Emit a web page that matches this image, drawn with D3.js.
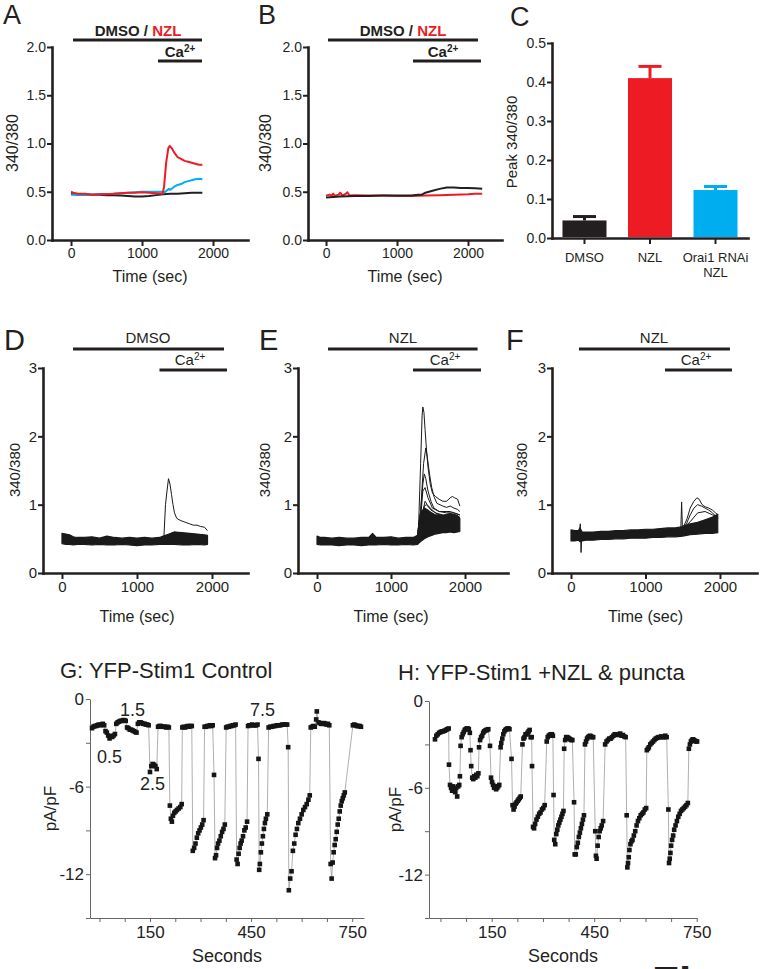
<!DOCTYPE html>
<html>
<head>
<meta charset="utf-8">
<script src="https://cdn.jsdelivr.net/npm/d3@7"></script>
<style>
body{margin:0;background:#fff;}
</style>
</head>
<body>
<div id="fig"></div>
<script>
var FONT = '"Liberation Sans", Arial, Helvetica, sans-serif';
var INK = "#231f20", RED = "#ed1c24", CYAN = "#00aeef";

// ---- panel A: mean 340/380 traces [sec, ratio]
var aBlack = [[0,0.48],[100,0.47],[200,0.47],[300,0.47],[400,0.47],[500,0.465],[600,0.465],[700,0.46],[800,0.455],[900,0.45],[1000,0.45],[1100,0.455],[1200,0.465],[1300,0.475],[1400,0.48],[1500,0.48],[1600,0.485],[1700,0.49],[1800,0.49],[1850,0.49]];
var aBlue = [[0,0.47],[200,0.47],[400,0.475],[600,0.48],[800,0.49],[900,0.495],[1000,0.50],[1100,0.50],[1200,0.50],[1280,0.50],[1300,0.49],[1330,0.50],[1360,0.52],[1380,0.53],[1400,0.52],[1450,0.55],[1500,0.57],[1550,0.58],[1600,0.60],[1650,0.61],[1700,0.62],[1750,0.63],[1800,0.635],[1850,0.63]];
var aRed = [[0,0.50],[30,0.49],[100,0.48],[200,0.48],[300,0.47],[400,0.475],[500,0.475],[600,0.48],[700,0.485],[800,0.49],[900,0.49],[1000,0.495],[1100,0.49],[1200,0.485],[1290,0.48],[1310,0.55],[1340,0.80],[1370,0.95],[1390,0.975],[1420,0.95],[1460,0.90],[1500,0.86],[1550,0.84],[1600,0.82],[1650,0.81],[1700,0.80],[1750,0.79],[1800,0.78],[1850,0.78]];

// ---- panel B
var bBlack = [[0,0.44],[100,0.445],[200,0.45],[400,0.455],[600,0.455],[800,0.46],[1000,0.46],[1200,0.46],[1300,0.47],[1350,0.47],[1400,0.49],[1500,0.51],[1600,0.53],[1700,0.545],[1800,0.545],[1900,0.54],[2000,0.54],[2100,0.535],[2200,0.53]];
var bRed = [[0,0.46],[50,0.47],[80,0.46],[100,0.48],[120,0.46],[180,0.47],[200,0.49],[230,0.46],[280,0.48],[300,0.495],[330,0.46],[400,0.465],[600,0.46],[800,0.46],[1000,0.455],[1200,0.455],[1400,0.46],[1600,0.465],[1800,0.47],[2000,0.475],[2100,0.48],[2200,0.48]];

// ---- panel C: peak 340/380
var cCats = ["DMSO", "NZL", "Orai1 RNAi|NZL"];
var cMeans = [0.045, 0.41, 0.123];
var cErrs = [0.01, 0.03, 0.009];
var cColors = [INK, RED, CYAN];

// ---- panels D-F: single cell traces; dense bundle as [sec, low, high]
var dBundleT = [0,50,100,150,200,300,400,500,600,700,800,900,1000,1100,1200,1300,1350,1400,1500,1600,1700,1800,1900,1940];
var dBundleLo = [0.43,0.42,0.42,0.41,0.42,0.42,0.41,0.42,0.41,0.41,0.42,0.41,0.40,0.41,0.41,0.42,0.42,0.42,0.42,0.41,0.41,0.42,0.41,0.42];
var dBundleHi = [0.58,0.57,0.56,0.53,0.52,0.52,0.53,0.51,0.54,0.52,0.51,0.52,0.51,0.52,0.51,0.52,0.54,0.56,0.60,0.59,0.58,0.57,0.56,0.55];
var dTraces = [
  [[1300,0.48],[1340,0.50],[1360,0.55],[1380,1.00],[1400,1.20],[1420,1.38],[1440,1.30],[1460,1.15],[1480,1.00],[1500,0.88],[1530,0.80],[1560,0.78],[1600,0.76],[1650,0.74],[1700,0.72],[1750,0.70],[1800,0.70],[1850,0.68],[1900,0.67],[1940,0.62]],
  [[1350,0.50],[1450,0.58],[1500,0.60],[1550,0.59],[1600,0.57],[1700,0.56],[1800,0.55],[1940,0.53]]
];

var eBundleT = [0,50,100,200,300,400,500,600,700,750,800,900,1000,1100,1200,1300,1360,1380,1400,1450,1500,1550,1600,1650,1700,1750,1800,1850,1900,1930];
var eBundleLo = [0.42,0.41,0.41,0.41,0.40,0.41,0.41,0.40,0.41,0.41,0.41,0.42,0.41,0.41,0.42,0.41,0.42,0.44,0.46,0.50,0.53,0.55,0.57,0.58,0.59,0.59,0.60,0.59,0.60,0.61];
var eBundleHi = [0.54,0.52,0.52,0.51,0.52,0.51,0.51,0.52,0.52,0.58,0.52,0.52,0.53,0.51,0.52,0.52,0.55,0.75,0.88,0.95,0.92,0.88,0.85,0.85,0.84,0.86,0.87,0.86,0.84,0.80];
var eTraces = [
  [[1340,0.50],[1370,0.60],[1400,1.60],[1420,2.30],[1430,2.43],[1445,2.35],[1460,2.10],[1480,1.80],[1500,1.55],[1530,1.30],[1560,1.17],[1600,1.12],[1650,1.08],[1700,1.05],[1750,1.05],[1800,1.10],[1830,1.12],[1860,1.10],[1900,1.08],[1930,0.98]],
  [[1350,0.50],[1400,0.90],[1440,1.60],[1470,1.83],[1490,1.70],[1520,1.45],[1550,1.25],[1580,1.12],[1620,1.02],[1700,0.98],[1750,0.96],[1800,0.98],[1850,0.95],[1900,0.93],[1930,0.90]],
  [[1350,0.50],[1400,0.90],[1430,1.30],[1450,1.45],[1470,1.38],[1500,1.20],[1540,1.05],[1580,0.95],[1650,0.90],[1750,0.88],[1850,0.88],[1930,0.85]],
  [[1360,0.50],[1400,0.80],[1430,1.20],[1460,1.25],[1500,1.10],[1560,0.95],[1650,0.90],[1800,0.90],[1930,0.85]],
  [[1360,0.50],[1420,0.85],[1460,1.05],[1490,1.00],[1530,0.95],[1600,0.88],[1700,0.85],[1800,0.83],[1930,0.80]],
  [[1370,0.50],[1420,0.70],[1450,0.98],[1480,1.00],[1540,0.92],[1650,0.85],[1930,0.82]]
];

var fBundleT = [0,50,100,120,150,200,300,400,500,600,700,800,900,1000,1100,1200,1300,1400,1500,1550,1600,1700,1800,1900,1970];
var fBundleLo = [0.47,0.47,0.48,0.46,0.47,0.48,0.48,0.49,0.49,0.50,0.50,0.51,0.51,0.51,0.52,0.52,0.53,0.53,0.54,0.55,0.56,0.57,0.58,0.58,0.59];
var fBundleHi = [0.63,0.62,0.62,0.66,0.60,0.60,0.60,0.61,0.61,0.62,0.62,0.63,0.63,0.64,0.64,0.65,0.66,0.66,0.68,0.70,0.72,0.74,0.78,0.82,0.86];
var fTraces = [
  [[90,0.55],[110,0.56],[125,0.72],[135,0.30],[145,0.55],[170,0.56]],
  [[1450,0.65],[1475,0.66],[1485,1.04],[1495,0.68],[1520,0.70],[1560,0.80],[1600,0.95],[1650,1.05],[1690,1.10],[1720,1.08],[1760,1.00],[1800,0.97],[1850,0.95],[1900,0.92],[1940,0.88],[1970,0.85]],
  [[1500,0.66],[1550,0.72],[1600,0.85],[1650,0.95],[1700,1.00],[1750,0.98],[1800,0.95],[1850,0.92],[1900,0.88],[1970,0.80]],
  [[1500,0.65],[1600,0.75],[1700,0.88],[1800,0.90],[1900,0.85],[1970,0.82]]
];

// ---- panels G, H: current density [sec, pA/pF]
var gPts = [[-22,-2.0],[-18,-1.9],[-14,-1.85],[-10,-1.85],[-6,-1.8],[-2,-1.75],[2,-1.8],[6,-1.75],[10,-1.7],[14,-1.8],
  [18,-2.2],[22,-2.3],[26,-2.5],[30,-2.7],[34,-2.55],[38,-2.6],[42,-2.5],[46,-2.4],
  [50,-1.7],[54,-1.6],[58,-1.55],[62,-1.5],[66,-1.5],[70,-1.45],[74,-1.45],[78,-1.5],
  [82,-1.95],[86,-2.0],[90,-2.1],[94,-2.1],[98,-2.15],[102,-2.2],[106,-2.25],[110,-2.3],
  [114,-1.7],[118,-1.6],[122,-1.6],[126,-1.65],[130,-1.7],[134,-1.7],[138,-1.75],[142,-1.75],[146,-1.8],
  [150,-5.0],[154,-4.6],[158,-4.45],[162,-4.5],[166,-4.6],[170,-4.8],
  [174,-1.9],[178,-1.85],[182,-1.85],[186,-1.9],[190,-1.9],[194,-1.9],[198,-1.95],[202,-1.9],[206,-1.95],
  [209,-7.3],[212,-8.2],[215,-8.4],[218,-8.0],[222,-7.8],[226,-7.7],[230,-7.6],[235,-7.5],[240,-7.4],[244,-7.2],
  [246,-1.95],[250,-1.9],[254,-1.95],[258,-1.9],[262,-1.85],[266,-1.9],[270,-1.85],[274,-1.85],
  [277,-10.4],[281,-10.2],[285,-9.9],[289,-9.5],[293,-9.2],[297,-9.0],[301,-8.8],[305,-8.6],[309,-8.3],
  [312,-1.9],[316,-1.9],[320,-1.85],[324,-1.85],[328,-1.8],[332,-1.85],[336,-1.8],
  [340,-5.2],[343,-10.9],[346,-10.7],[349,-10.2],[352,-9.9],[356,-9.7],[360,-9.4],[364,-9.1],[368,-8.9],[372,-8.6],
  [376,-1.95],[380,-1.9],[384,-1.9],[388,-1.85],[392,-1.85],[396,-1.8],[400,-1.8],[404,-1.75],
  [407,-11.0],[410,-11.3],[413,-10.6],[416,-10.2],[419,-9.9],[422,-9.7],[426,-9.4],[430,-9.0],[434,-8.8],[438,-8.4],
  [441,-1.85],[445,-1.8],[449,-1.8],[453,-1.75],[457,-1.8],[461,-1.8],[465,-1.8],[469,-1.75],
  [472,-4.1],[474,-11.7],[476,-11.3],[479,-10.5],[482,-9.9],[485,-9.4],[488,-8.9],[491,-8.5],[494,-8.2],[498,-7.9],
  [502,-1.95],[507,-1.9],[512,-1.9],[517,-1.85],[522,-1.85],[527,-1.8],[532,-1.8],[537,-1.8],[542,-1.75],[547,-1.75],[552,-1.75],[557,-1.75],
  [560,-3.3],[562,-13.1],[566,-12.3],[570,-11.8],[574,-10.4],[578,-9.9],[582,-9.3],[586,-8.9],[590,-8.5],[595,-8.2],[600,-7.9],[605,-7.6],[610,-7.4],[615,-7.2],[620,-6.9],[624,-6.6],
  [627,-1.95],[631,-1.9],[635,-1.85],[639,-1.9],[643,-1.4],[645,-0.85],[650,-1.6],[654,-1.65],[658,-1.7],[662,-1.7],[666,-1.65],[670,-1.7],[674,-1.75],[678,-1.7],[682,-1.8],
  [686,-11.3],[689,-12.3],[692,-11.2],[695,-10.5],[698,-10.0],[701,-9.6],[704,-9.1],[707,-8.6],[710,-8.2],[713,-7.7],[716,-7.3],[719,-7.0],[722,-6.8],[725,-6.6],[728,-6.4],
  [752,-1.8],[756,-1.75],[760,-1.8],[764,-1.85],[768,-1.85],[772,-1.85],[776,-1.9]];
var gNotes = [["0.5",-7,-4.4],["1.5",61,-1.17],["2.5",120,-6.2],["7.5",447,-1.17]];

var hPts = [[-16,-2.65],[-12,-2.4],[-8,-2.3],[-4,-2.2],[0,-2.15],[4,-2.1],[8,-2.1],[12,-2.05],[16,-2.0],[20,-1.95],[24,-1.9],
  [25,-4.4],[28,-5.8],[31,-6.0],[34,-6.2],[37,-5.9],[40,-6.1],[43,-6.3],[46,-6.0],[49,-6.6],[52,-5.9],[55,-5.8],
  [57,-5.2],[59,-3.1],[62,-2.5],[65,-2.3],[68,-2.15],[71,-2.0],[74,-1.95],[77,-1.9],[80,-1.9],[83,-1.95],[86,-2.2],
  [88,-3.4],[90,-4.5],[93,-5.3],[96,-5.4],[99,-5.2],[102,-5.3],[105,-5.1],[108,-5.2],[111,-5.0],
  [113,-3.2],[116,-2.7],[119,-2.5],[122,-2.4],[125,-2.2],[128,-2.1],[131,-2.05],[134,-2.0],[137,-2.0],[140,-1.95],
  [145,-3.1],[148,-5.3],[151,-5.6],[154,-5.8],[157,-6.0],[160,-5.9],[163,-6.1],[166,-6.0],[169,-5.9],[172,-5.8],
  [176,-3.2],[178,-2.9],[181,-2.6],[184,-2.3],[187,-2.1],[190,-2.0],[193,-1.95],[196,-1.9],[199,-1.9],[202,-1.95],
  [208,-4.0],[211,-7.2],[214,-7.5],[217,-7.3],[220,-7.1],[223,-7.0],[226,-6.9],[229,-6.8],[232,-6.7],[235,-6.6],
  [240,-3.0],[243,-2.6],[246,-2.5],[249,-2.3],[252,-2.3],[255,-2.2],[258,-2.1],[261,-2.0],[264,-2.5],[267,-2.5],
  [268,-4.5],[271,-8.7],[274,-8.8],[277,-8.5],[281,-8.2],[285,-8.0],[289,-7.8],[293,-7.7],[297,-7.5],[301,-7.4],[305,-7.2],
  [311,-2.8],[314,-2.5],[317,-2.4],[320,-2.35],[323,-2.3],[326,-2.3],[329,-2.4],
  [331,-6.5],[333,-9.6],[336,-9.9],[339,-9.2],[342,-8.9],[345,-8.6],[348,-8.4],[351,-8.2],[354,-8.0],[357,-7.8],[360,-7.6],
  [362,-3.3],[365,-2.7],[368,-2.5],[371,-2.5],[374,-2.55],[377,-2.6],[380,-2.65],[383,-2.7],[386,-2.7],
  [391,-7.0],[393,-10.6],[396,-10.6],[399,-10.1],[402,-9.8],[405,-9.4],[408,-9.1],[411,-8.8],[414,-8.5],[417,-8.2],[420,-7.9],
  [423,-3.0],[426,-2.8],[429,-2.6],[432,-2.5],[435,-2.45],[438,-2.4],[441,-2.45],[444,-2.5],[447,-2.5],
  [453,-9.0],[455,-10.7],[457,-10.9],[460,-10.0],[463,-9.4],[466,-9.0],[469,-8.8],[472,-8.6],[476,-8.3],
  [482,-3.0],[486,-2.8],[490,-2.7],[494,-2.6],[498,-2.6],[502,-2.5],[506,-2.4],[510,-2.3],[514,-2.3],[518,-2.35],[522,-2.3],[526,-2.25],[530,-2.4],[534,-2.35],[538,-2.45],[542,-2.5],
  [545,-7.9],[547,-11.5],[549,-11.2],[551,-10.8],[553,-10.3],[556,-9.9],[559,-9.7],[562,-9.6],[566,-9.3],[570,-9.0],[574,-8.6],[578,-8.3],[582,-8.1],[586,-7.9],[590,-7.8],[594,-7.7],[598,-7.5],[602,-7.4],
  [604,-3.4],[607,-3.3],[610,-3.2],[614,-3.0],[618,-2.9],[622,-2.8],[626,-2.7],[630,-2.6],[634,-2.55],[638,-2.5],[642,-2.5],[646,-2.45],[650,-2.5],[654,-2.5],[658,-2.4],[662,-2.5],
  [667,-7.5],[669,-11.2],[671,-10.9],[673,-10.5],[675,-10.0],[678,-9.6],[681,-9.3],[684,-8.9],[688,-8.6],[692,-8.3],[696,-8.0],[700,-7.8],[704,-7.6],[708,-7.5],[712,-7.4],[716,-7.3],[720,-7.2],[724,-7.05],
  [727,-3.3],[730,-3.0],[733,-2.8],[736,-2.7],[739,-2.65],[742,-2.7],[745,-2.75],[748,-2.8],[751,-2.8]];

var traceXTicks = [0, 1000, 2000];
var ohmXTicks = [0,75,150,225,300,375,450,525,600,675,750];
var ohmXLabels = [150, 450, 750];
var ohmYTicks = [0,-3,-6,-9,-12,-15];
var ohmYLabels = [0, -6, -12];

var svg = d3.select("#fig").append("svg")
  .attr("width", 764).attr("height", 969)
  .style("font-family", FONT);

function txt(x, y, s, size, opts) {
  opts = opts || {};
  var t = svg.append("text").attr("x", x).attr("y", y)
    .attr("font-size", size).attr("fill", opts.fill || INK)
    .attr("text-anchor", opts.anchor || "start")
    .attr("font-weight", opts.bold ? "bold" : "normal")
    .text(s);
  if (opts.rotate) t.attr("transform", "rotate(-90," + x + "," + y + ")");
  return t;
}

function styleThick(a, fs) {
  a.attr("font-family", FONT).attr("font-size", fs);
  a.select(".domain").attr("stroke", INK).attr("stroke-width", 2.6).attr("stroke-linecap", "square");
  a.selectAll(".tick line").attr("stroke", INK).attr("stroke-width", 2);
  a.selectAll(".tick text").attr("fill", INK);
}

function thickAxes(x, y, xVals, yVals, yFmt, fs) {
  var xa = svg.append("g").attr("transform", "translate(0," + y.range()[0] + ")")
    .call(d3.axisBottom(x).tickValues(xVals).tickFormat(d3.format("d"))
      .tickSize(6).tickPadding(2).tickSizeOuter(0));
  var ya = svg.append("g").attr("transform", "translate(" + x.range()[0] + ",0)")
    .call(d3.axisLeft(y).tickValues(yVals).tickFormat(yFmt).tickSize(5).tickPadding(1).tickSizeOuter(0));
  styleThick(xa, fs);
  styleThick(ya, fs);
}

function line(x, y) {
  return d3.line().x(function(d) { return x(d[0]); }).y(function(d) { return y(d[1]); });
}

function drawTrace(x, y, pts, color, w) {
  svg.append("path").attr("d", line(x, y)(pts))
    .attr("fill", "none").attr("stroke", color).attr("stroke-width", w)
    .attr("stroke-linejoin", "round");
}

function drawBundle(x, y, ts, lo, hi) {
  var rows = d3.zip(ts, lo, hi);
  svg.append("path")
    .attr("d", d3.area().x(function(d) { return x(d[0]); })
      .y0(function(d) { return y(d[1]); }).y1(function(d) { return y(d[2]); })(rows))
    .attr("fill", "#1a1a1a").attr("stroke", "#1a1a1a").attr("stroke-width", 1.2)
    .attr("stroke-linejoin", "round");
}

function bar(x, t0, t1, yPx) {
  svg.append("line").attr("x1", x(t0)).attr("x2", x(t1)).attr("y1", yPx).attr("y2", yPx)
    .attr("stroke", INK).attr("stroke-width", 3);
}

function caLabel(cx, yPx, bold) {
  var t = svg.append("text").attr("x", cx).attr("y", yPx).attr("text-anchor", "middle")
    .attr("font-size", 15).attr("fill", INK).attr("font-weight", bold ? "bold" : "normal");
  t.append("tspan").text("Ca");
  t.append("tspan").attr("font-size", 10).attr("dy", -5).text("2+");
}

function drugTitle(cx) {
  var t = svg.append("text").attr("x", cx).attr("y", 36).attr("text-anchor", "middle")
    .attr("font-size", 15).attr("font-weight", "bold").attr("fill", INK);
  t.append("tspan").text("DMSO / ");
  t.append("tspan").attr("fill", RED).text("NZL");
}

// ================= A =================
var xA = d3.scaleLinear().domain([-268, 2493]).range([52, 248]);
var yA = d3.scaleLinear().domain([0, 2]).range([240, 47]);
thickAxes(xA, yA, traceXTicks, [0, 0.5, 1, 1.5, 2], d3.format(".1f"), 14);
drawTrace(xA, yA, aBlack, INK, 2);
drawTrace(xA, yA, aBlue, CYAN, 2);
drawTrace(xA, yA, aRed, RED, 2);
bar(xA, 28, 1845, 40);
bar(xA, 1225, 1845, 61);
drugTitle(138);
caLabel(180, 57, true);
txt(150, 282, "Time (sec)", 16, {anchor: "middle"});
txt(18, 143, "340/380", 16, {anchor: "middle", rotate: true});
txt(3, 24, "A", 27);

// ================= B =================
var xB = d3.scaleLinear().domain([-254, 2479]).range([308, 502]);
var yB = d3.scaleLinear().domain([0, 2]).range([240, 47]);
thickAxes(xB, yB, traceXTicks, [0, 0.5, 1, 1.5, 2], d3.format(".1f"), 14);
drawTrace(xB, yB, bRed, RED, 2);
drawTrace(xB, yB, bBlack, INK, 2);
bar(xB, 28, 2140, 40);
bar(xB, 1225, 2183, 61);
drugTitle(403);
caLabel(443, 57, true);
txt(405, 282, "Time (sec)", 16, {anchor: "middle"});
txt(271, 143, "340/380", 16, {anchor: "middle", rotate: true});
txt(258, 24, "B", 27);

// ================= C =================
var xC = d3.scaleBand().domain(cCats).range([552, 748]).paddingInner(0.328).paddingOuter(0.16);
var yC = d3.scaleLinear().domain([0, 0.5]).range([238, 43]);
cCats.forEach(function(c, i) {
  var mid = xC(c) + xC.bandwidth() / 2;
  var top = yC(cMeans[i] + cErrs[i]);
  svg.append("line").attr("x1", mid).attr("x2", mid)
    .attr("y1", yC(cMeans[i])).attr("y2", top)
    .attr("stroke", cColors[i]).attr("stroke-width", 3);
  svg.append("line").attr("x1", mid - 11.5).attr("x2", mid + 11.5)
    .attr("y1", top).attr("y2", top)
    .attr("stroke", cColors[i]).attr("stroke-width", 3);
  svg.append("rect").attr("x", xC(c)).attr("width", xC.bandwidth())
    .attr("y", yC(cMeans[i])).attr("height", yC(0) - yC(cMeans[i]) - 1)
    .attr("fill", cColors[i]);
  c.split("|").forEach(function(s, k) {
    txt(mid, 262 + k * 15, s, 13, {anchor: "middle"});
  });
});
var cxAxis = svg.append("g").attr("transform", "translate(0,238)")
  .call(d3.axisBottom(xC).tickSize(6).tickFormat("").tickSizeOuter(0));
var cyAxis = svg.append("g").attr("transform", "translate(552,0)")
  .call(d3.axisLeft(yC).tickValues([0, 0.1, 0.2, 0.3, 0.4, 0.5]).tickFormat(d3.format(".1f"))
    .tickSize(5).tickPadding(1).tickSizeOuter(0));
styleThick(cxAxis, 14);
styleThick(cyAxis, 14);
txt(517, 142, "Peak 340/380", 15, {anchor: "middle", rotate: true});
txt(510, 26, "C", 27);

// ================= D, E, F =================
var yD = d3.scaleLinear().domain([0, 3]).range([573, 368]);
var panelsDEF = [
  {x: d3.scaleLinear().domain([-253, 2480]).range([43, 248]), lo: dBundleLo, hi: dBundleHi, t: dBundleT, tr: dTraces,
   drug: "DMSO", bar: [147, 2160], ca: [1300, 2200], caX: 190, drugX: 148, ylabX: 20, letter: "D", lx: 4},
  {x: d3.scaleLinear().domain([-257, 2581]).range([298, 508]), lo: eBundleLo, hi: eBundleHi, t: eBundleT, tr: eTraces,
   drug: "NZL", bar: [149, 2170], ca: [1297, 2216], caX: 445, drugX: 403, ylabX: 270, letter: "E", lx: 259},
  {x: d3.scaleLinear().domain([-255, 2497]).range([552, 757]), lo: fBundleLo, hi: fBundleHi, t: fBundleT, tr: fTraces,
   drug: "NZL", bar: [107, 2134], ca: [1262, 2161], caX: 696, drugX: 654, ylabX: 527, letter: "F", lx: 506}
];
panelsDEF.forEach(function(p) {
  thickAxes(p.x, yD, traceXTicks, [0, 1, 2, 3], d3.format("d"), 15);
  drawBundle(p.x, yD, p.t, p.lo, p.hi);
  p.tr.forEach(function(tr) { drawTrace(p.x, yD, tr, "#1a1a1a", 1); });
  bar(p.x, p.bar[0], p.bar[1], 349);
  bar(p.x, p.ca[0], p.ca[1], 370);
  txt(p.drugX, 343, p.drug, 15, {anchor: "middle"});
  caLabel(p.caX, 365, false);
  txt(p.x(1000), 622, "Time (sec)", 16, {anchor: "middle"});
  txt(p.ylabX, 470, "340/380", 15, {anchor: "middle", rotate: true});
  txt(p.lx, 350, p.letter, 29);
});

// ================= G, H =================
function ohmPanel(x, y, pts, title, tx, ty, ylabX) {
  var dashFmt = function(d) { return d === 0 ? "0" : "-" + Math.abs(d); };
  var xa = svg.append("g").attr("transform", "translate(0," + y.range()[1] + ")")
    .call(d3.axisBottom(x).tickValues(ohmXTicks).tickSize(4).tickPadding(4).tickSizeOuter(0)
      .tickFormat(function(d) { return ohmXLabels.indexOf(d) >= 0 ? d : ""; }));
  var ya = svg.append("g").attr("transform", "translate(" + x.range()[0] + ",0)")
    .call(d3.axisLeft(y).tickValues(ohmYTicks).tickSize(4).tickPadding(2).tickSizeOuter(0)
      .tickFormat(function(d) { return ohmYLabels.indexOf(d) >= 0 ? dashFmt(d) : ""; }));
  [xa, ya].forEach(function(a) {
    a.attr("font-family", FONT).attr("font-size", 17);
    a.select(".domain").attr("stroke", "#666").attr("stroke-width", 1);
    a.selectAll(".tick line").attr("stroke", "#666").attr("stroke-width", 1);
    a.selectAll(".tick text").attr("fill", "#222");
  });
  svg.append("path").attr("d", line(x, y)(pts))
    .attr("fill", "none").attr("stroke", "#9a9a9a").attr("stroke-width", 0.8);
  svg.append("g").selectAll("rect").data(pts).join("rect")
    .attr("x", function(d) { return x(d[0]) - 2.3; })
    .attr("y", function(d) { return y(d[1]) - 2.3; })
    .attr("width", 4.6).attr("height", 4.6)
    .attr("fill", "#151515");
  txt(tx, ty, title, 22);
  txt((x.range()[0] + x.range()[1]) / 2, 962, "Seconds", 18, {anchor: "middle"});
  txt(ylabX, (y.range()[0] + y.range()[1]) / 2, "pA/pF", 17, {anchor: "middle", rotate: true});
}

var xG = d3.scaleLinear().domain([-28, 785]).range([90, 364]);
var yG = d3.scaleLinear().domain([0, -15]).range([699, 918]);
ohmPanel(xG, yG, gPts, "G: YFP-Stim1 Control", 60, 678, 56);
gNotes.forEach(function(n) { txt(xG(n[1]), yG(n[2]), n[0], 18); });

var xH = d3.scaleLinear().domain([-33.5, 750.8]).range([429, 697]);
var yH = d3.scaleLinear().domain([0, -15]).range([701, 918]);
ohmPanel(xH, yH, hPts, "H: YFP-Stim1 +NZL & puncta", 398, 680, 401);

// caption that only peeks in at the page bottom, as in the source figure
txt(652, 998, "Figure 7", 44, {bold: true});
</script>
</body>
</html>
